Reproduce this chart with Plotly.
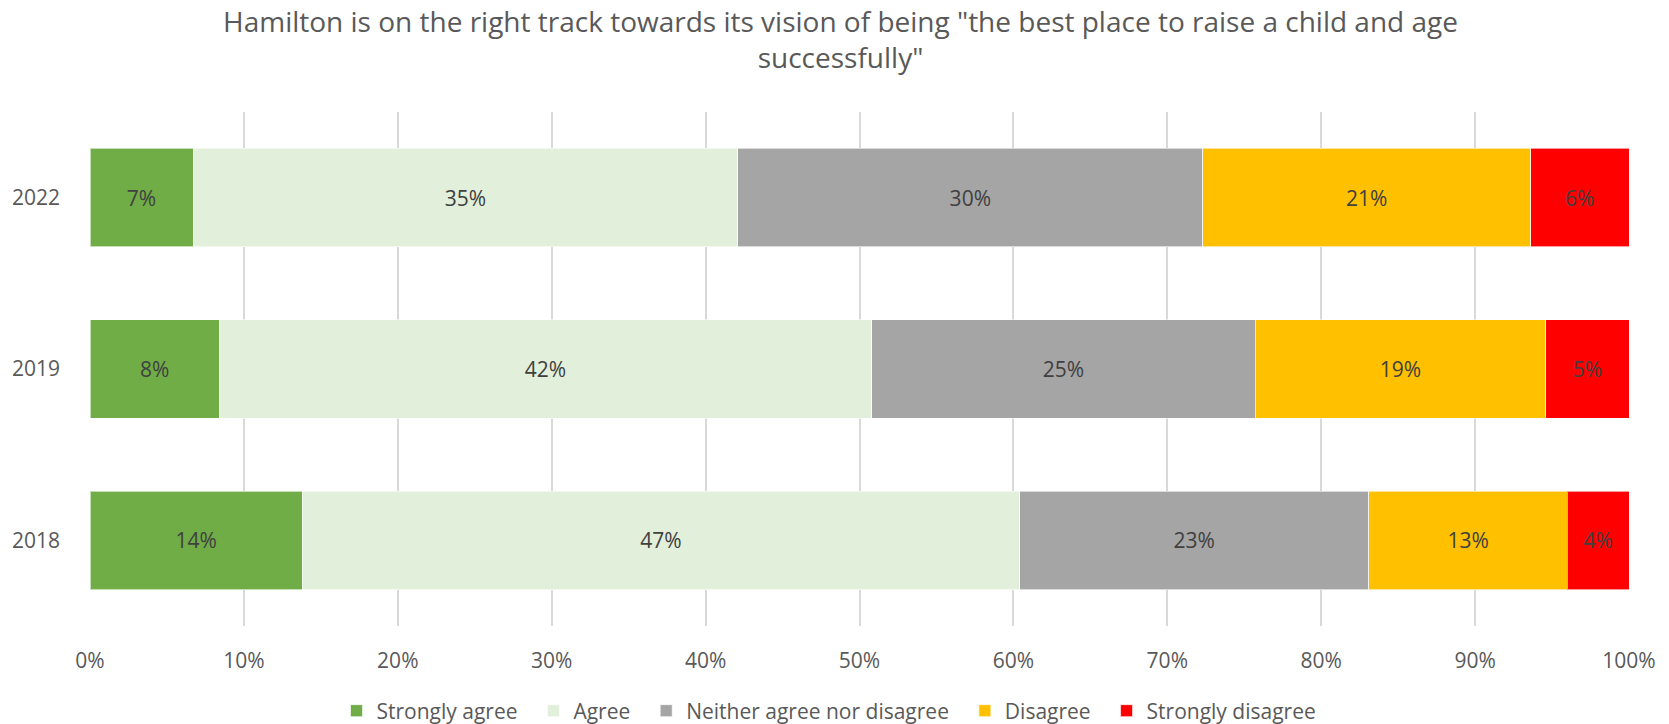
import plotly.graph_objects as go

years = ["2022", "2019", "2018"]
series_names = ["Strongly agree", "Agree", "Neither agree nor disagree", "Disagree", "Strongly disagree"]
strongly_agree = [6.7, 8.4, 13.8]
agree = [35.4, 42.4, 46.6]
neither = [30.2, 24.9, 22.7]
disagree = [21.3, 18.9, 12.9]
strongly_disagree = [6.4, 5.4, 4.0]
x_ticks = list(range(0, 101, 10))
title_text = 'Hamilton is on the right track towards its vision of being "the best place to raise a child and age<br>successfully"'
colors = ["#70AD47", "#E2EFDA", "#A5A5A5", "#FFC000", "#FF0000"]

values = [strongly_agree, agree, neither, disagree, strongly_disagree]

FONT = "Open Sans"

fig = go.Figure()
for name, vals, col in zip(series_names, values, colors):
    fig.add_trace(go.Bar(
        y=years, x=vals, name=name + "  ", orientation="h",
        marker=dict(color=col, line=dict(width=1, color="rgba(255,255,255,0.6)")),
        texttemplate="%{x:.0f}%", textposition="inside",
        insidetextanchor="middle", constraintext="none",
        textfont=dict(color="#404040", size=21, family=FONT),
        hoverinfo="skip",
    ))

W, H = 1669, 724
L, R, T, B = 88, 40, 112, 98

fig.update_layout(
    width=W, height=H,
    barmode="stack", bargap=0.426,
    plot_bgcolor="white", paper_bgcolor="white",
    margin=dict(l=L, r=R, t=T, b=B),
    font=dict(family=FONT, color="#595959", size=21),
    xaxis=dict(
        range=[0, 100], tickvals=x_ticks, ticktext=[f"{t}%" for t in x_ticks],
        showgrid=True, gridcolor="#D9D9D9", gridwidth=1.5, zeroline=False,
        showline=False, ticks="", ticklabelstandoff=20,
        tickfont=dict(size=21, color="#595959", family=FONT),
    ),
    yaxis=dict(
        type="category", categoryorder="array", categoryarray=["2018", "2019", "2022"],
        showgrid=False, showline=False, ticks="", ticklabelstandoff=29,
        tickfont=dict(size=21, color="#595959", family=FONT),
    ),
    legend=dict(
        orientation="h", x=0.5, xanchor="center", xref="container",
        y=13 / H, yanchor="middle", yref="container",
        font=dict(size=21, color="#595959", family=FONT), traceorder="normal",
        itemwidth=30,
    ),
    annotations=[dict(
        text=title_text, showarrow=False,
        xref="paper", yref="paper",
        x=(839.5 - L) / (W - L - R), xanchor="center",
        y=1 + (T - 0) / (H - T - B), yanchor="top",
        font=dict(size=28, color="#595959", family=FONT),
        align="center",
    )],
)

fig.write_html(
    "out.html",
    config={"displayModeBar": False},
    post_script="document.body.style.margin='0';document.body.style.padding='0';",
)
